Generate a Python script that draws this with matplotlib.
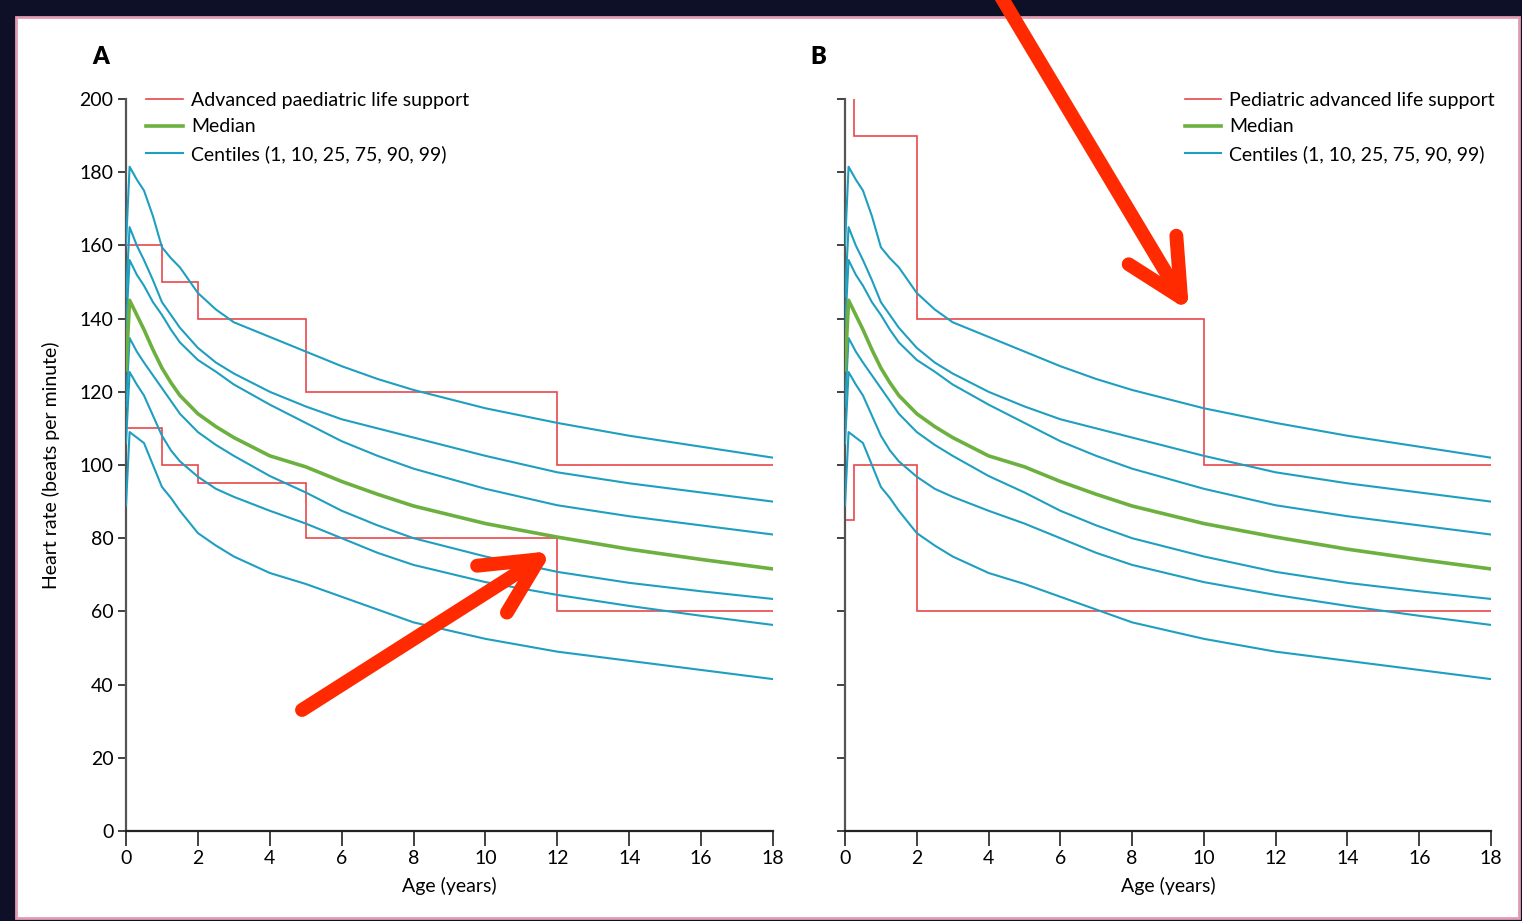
import matplotlib.pyplot as plt
from matplotlib.patches import Rectangle, FancyArrowPatch

plt.rcParams['font.family'] = ['Lato', 'DejaVu Sans']

# centile curves (same in both panels)
age = [0, 0.1, 0.3, 0.5, 0.75, 1, 1.25, 1.5, 2, 2.5, 3, 4, 5, 6, 7, 8, 10, 12, 14, 16, 18]
c99 = [160, 181.5, 178, 175, 168, 159.5, 156.5, 154, 147, 142.5, 139, 135, 131, 127, 123.5, 120.5, 115.5, 111.5, 108, 105, 102]
c90 = [146, 165, 160, 156, 150.5, 144.5, 141, 137.5, 132, 128, 125, 120, 116, 112.5, 110, 107.5, 102.5, 98, 95, 92.5, 90]
c75 = [137, 156, 152, 149, 144.5, 141, 137, 133.5, 128.7, 125.5, 122, 116.5, 111.5, 106.5, 102.5, 99, 93.5, 89, 86, 83.5, 81]
c50 = [126, 145, 141, 137, 131.5, 126.5, 122.5, 119, 114, 110.5, 107.5, 102.5, 99.5, 95.5, 92, 88.8, 84, 80.3, 77, 74.2, 71.6]
c25 = [116, 134.7, 131, 128, 124.5, 121, 117.5, 114, 109, 105.5, 102.5, 97, 92.5, 87.5, 83.5, 80, 75, 70.8, 67.8, 65.5, 63.4]
c10 = [106, 125.4, 122, 119, 113.5, 108, 104, 101, 96.8, 93.5, 91.3, 87.5, 84, 80, 76, 72.7, 68, 64.5, 61.5, 58.8, 56.3]
c01 = [89, 109, 107.5, 106, 100, 94, 91, 87.5, 81.4, 78, 75, 70.5, 67.5, 64, 60.5, 57, 52.5, 49, 46.5, 44, 41.5]

# APLS reference ranges (panel A)
apls_edges = [0, 1, 2, 5, 12, 18]
apls_upper = [160, 150, 140, 120, 100]
apls_lower = [110, 100, 95, 80, 60]

# PALS reference ranges (panel B)
pals_up_edges = [0, 0.25, 2, 10, 18]
pals_upper = [205, 190, 140, 100]
pals_lo_edges = [0, 0.25, 2, 18]
pals_lower = [85, 100, 60]

red = '#e8474b'
cyan = '#1f9fc0'
green = '#6cb03f'

fig = plt.figure(figsize=(15.22, 9.21), dpi=100, facecolor='#0e1027')
fig.patches.append(Rectangle((16 / 1522, 3 / 921), 1503 / 1522, 901 / 921,
                             transform=fig.transFigure, facecolor='white',
                             edgecolor='#e29cb2', linewidth=2, zorder=-5))

axA = fig.add_axes([126 / 1522, 90 / 921, 647 / 1522, 732 / 921])
axB = fig.add_axes([845 / 1522, 90 / 921, 646 / 1522, 732 / 921])

for ax in (axA, axB):
    ax.set_facecolor('none')
    ax.set_zorder(1)
    for c in (c99, c90, c75, c25, c10, c01):
        ax.plot(age, c, color=cyan, lw=1.5, zorder=3)
    ax.plot(age, c50, color=green, lw=2.6, zorder=4)
    ax.set_xlim(0, 18)
    ax.set_ylim(0, 200)
    ax.set_xticks(range(0, 19, 2))
    ax.set_yticks(range(0, 201, 20))
    ax.spines['top'].set_visible(False)
    ax.spines['right'].set_visible(False)
    ax.spines['left'].set_color('#555555')
    ax.spines['left'].set_linewidth(1.6)
    ax.spines['bottom'].set_color('#222222')
    ax.spines['bottom'].set_linewidth(1.6)
    ax.tick_params(axis='y', length=6, width=1.3, color='#333333', labelsize=14, pad=3)
    ax.tick_params(axis='x', length=11, width=1.3, color='#333333', labelsize=14, pad=3)
    ax.set_xlabel('Age (years)', fontsize=14, labelpad=7)

legend_kw = dict(frameon=False, fontsize=14, handlelength=1.9, handletextpad=0.4,
                 labelspacing=0.5, borderaxespad=0, borderpad=0)

# panel A
axA.stairs(apls_upper, apls_edges, baseline=None, color=red, lw=1.2, zorder=2)
axA.stairs(apls_lower, apls_edges, baseline=None, color=red, lw=1.2, zorder=2)
axA.set_ylabel('Heart rate (beats per minute)', fontsize=14, labelpad=14)
hA = [plt.Line2D([], [], color=red, lw=1.2), plt.Line2D([], [], color=green, lw=2.6),
      plt.Line2D([], [], color=cyan, lw=1.5)]
axA.legend(hA, ['Advanced paediatric life support', 'Median', 'Centiles (1, 10, 25, 75, 90, 99)'],
           loc='upper left', bbox_to_anchor=(0.031, 1.01), **legend_kw)

# panel B
axB.stairs(pals_upper, pals_up_edges, baseline=None, color=red, lw=1.2, zorder=2)
axB.stairs(pals_lower, pals_lo_edges, baseline=None, color=red, lw=1.2, zorder=2)
axB.set_yticklabels([])
hB = [plt.Line2D([], [], color=red, lw=1.2), plt.Line2D([], [], color=green, lw=2.6),
      plt.Line2D([], [], color=cyan, lw=1.5)]
axB.legend(hB, ['Pediatric advanced life support', 'Median', 'Centiles (1, 10, 25, 75, 90, 99)'],
           loc='upper right', bbox_to_anchor=(1.006, 1.01), **legend_kw)

fig.text(101 / 1522, 1 - 57 / 921, 'A', fontsize=17, fontweight='heavy', ha='center', va='center')
fig.text(818 / 1522, 1 - 57 / 921, 'B', fontsize=17, fontweight='heavy', ha='center', va='center')

# red annotation arrows drawn over the figure (pixel coordinates)
def px(x, y):
    return (x / 1522, 1 - y / 921)

for tail, tip in [((302, 710), (552, 551)), ((1000, -5), (1189, 311))]:
    arr = FancyArrowPatch(px(*tail), px(*tip), transform=fig.transFigure,
                          arrowstyle='->,head_length=2.0,head_width=1.0',
                          color='#ff2a00', lw=10, capstyle='round', joinstyle='round',
                          mutation_scale=20, shrinkA=0, shrinkB=0, zorder=10)
    fig.patches.append(arr)

fig.savefig('out.png', dpi=100, facecolor=fig.get_facecolor())
